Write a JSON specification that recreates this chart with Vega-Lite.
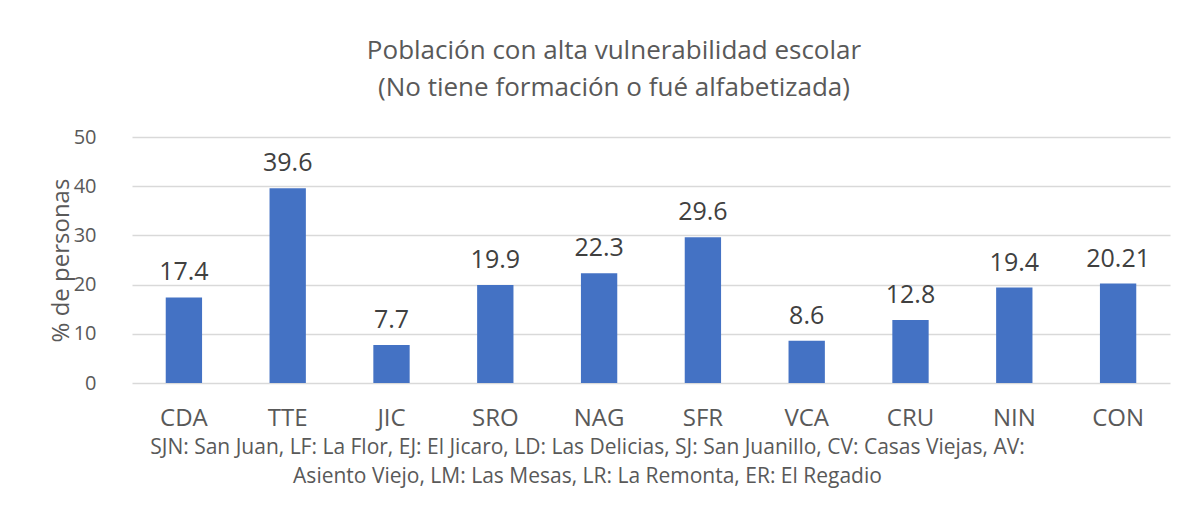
{
  "$schema": "https://vega.github.io/schema/vega-lite/v6.json",
  "width": 1038,
  "height": 246,
  "autosize": {"type": "none"},
  "padding": {"left": 132, "top": 137, "right": 23, "bottom": 148},
  "background": "white",
  "title": {
    "text": ["Población con alta vulnerabilidad escolar", "(No tiene formación o fué alfabetizada)"],
    "font": "Open Sans",
    "fontSize": 26,
    "fontWeight": "normal",
    "color": "#595959",
    "lineHeight": 37,
    "anchor": "middle",
    "dx": -37,
    "offset": 26
  },
  "data": {
    "values": [
      {"sitio": "CDA", "valor": 17.4},
      {"sitio": "TTE", "valor": 39.6},
      {"sitio": "JIC", "valor": 7.7},
      {"sitio": "SRO", "valor": 19.9},
      {"sitio": "NAG", "valor": 22.3},
      {"sitio": "SFR", "valor": 29.6},
      {"sitio": "VCA", "valor": 8.6},
      {"sitio": "CRU", "valor": 12.8},
      {"sitio": "NIN", "valor": 19.4},
      {"sitio": "CON", "valor": 20.21}
    ]
  },
  "encoding": {
    "x": {
      "field": "sitio",
      "type": "nominal",
      "sort": null,
      "scale": {"paddingInner": 0.65, "paddingOuter": 0.325},
      "axis": {
        "title": ["SJN: San Juan, LF: La Flor, EJ: El Jicaro, LD: Las Delicias, SJ: San Juanillo, CV: Casas Viejas, AV:", "Asiento Viejo, LM: Las Mesas, LR: La Remonta, ER: El Regadio"],
        "titleFont": "Open Sans",
        "titleFontSize": 21,
        "titleFontWeight": "normal",
        "titleColor": "#595959",
        "titleLineHeight": 29,
        "titleX": 455,
        "titlePadding": 6,
        "labelAngle": 0,
        "labelFont": "Open Sans",
        "labelFontSize": 24,
        "labelColor": "#595959",
        "labelPadding": 23,
        "ticks": false,
        "domain": false
      }
    },
    "y": {
      "field": "valor",
      "type": "quantitative",
      "scale": {"domain": [0, 50]},
      "axis": {
        "title": "% de personas",
        "titleFont": "Open Sans",
        "titleFontSize": 24,
        "titleFontWeight": "normal",
        "titleColor": "#595959",
        "titlePadding": 0,
        "values": [0, 10, 20, 30, 40, 50],
        "labelFont": "Open Sans",
        "labelFontSize": 20,
        "labelColor": "#595959",
        "labelPadding": 36,
        "ticks": false,
        "domain": false,
        "grid": true,
        "gridColor": "#d9d9d9",
        "gridWidth": 1.5
      }
    }
  },
  "layer": [
    {"mark": {"type": "bar", "color": "#4472C4"}},
    {
      "mark": {"type": "text", "baseline": "bottom", "dy": -12, "font": "Open Sans", "fontSize": 25, "color": "#404040"},
      "encoding": {"text": {"field": "valor", "type": "quantitative", "format": ".2~f"}}
    }
  ],
  "config": {"view": {"stroke": null}}
}
